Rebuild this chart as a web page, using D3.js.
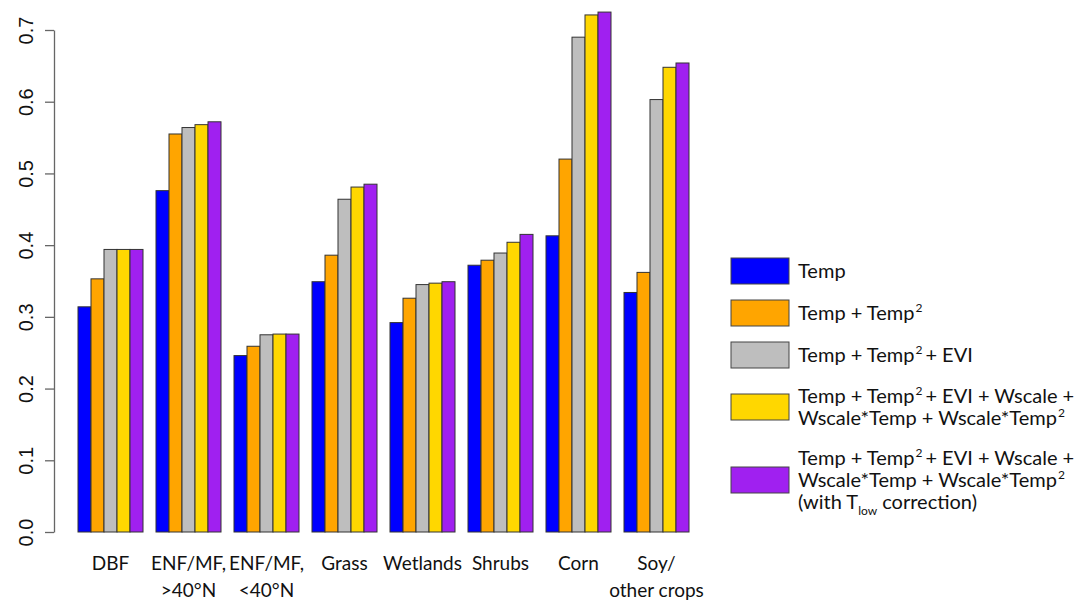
<!DOCTYPE html>
<html>
<head>
<meta charset="utf-8">
<script src="https://cdn.jsdelivr.net/npm/d3@7"></script>
<style>
  html, body { margin: 0; padding: 0; background: #fff; }
</style>
</head>
<body>
<div id="chart"></div>
<script>
// Chart data
const categories = ['DBF', 'ENF/MF,\n>40°N', 'ENF/MF,\n<40°N', 'Grass', 'Wetlands', 'Shrubs', 'Corn', 'Soy/\nother crops'];
const seriesNames = [
  ['Temp'],
  ['Temp + Temp^{2}'],
  ['Temp + Temp^{2}+ EVI'],
  ['Temp + Temp^{2}+ EVI + Wscale +', 'Wscale*Temp + Wscale*Temp^{2}'],
  ['Temp + Temp^{2}+ EVI + Wscale +', 'Wscale*Temp + Wscale*Temp^{2}', '(with T_{low} correction)']
];
const seriesColors = ['#0000ff', '#ffa500', '#bebebe', '#ffd700', '#a020f0'];
const temp =        [0.314, 0.476, 0.246, 0.349, 0.292, 0.372, 0.413, 0.334];
const tempSq =      [0.353, 0.555, 0.259, 0.386, 0.326, 0.379, 0.520, 0.362];
const tempSqEvi =   [0.394, 0.564, 0.275, 0.464, 0.345, 0.389, 0.690, 0.603];
const wscale =      [0.394, 0.568, 0.276, 0.481, 0.347, 0.404, 0.721, 0.648];
const wscaleTlow =  [0.394, 0.572, 0.276, 0.485, 0.349, 0.415, 0.725, 0.654];
const yTicks = [0, 0.1, 0.2, 0.3, 0.4, 0.5, 0.6, 0.7];

const series = [temp, tempSq, tempSqEvi, wscale, wscaleTlow];

const width = 1088, height = 600;
const svg = d3.select('#chart').append('svg')
  .attr('width', width)
  .attr('height', height);

const y = d3.scaleLinear().domain([0, 0.7]).range([532, 30]);
const x0 = d3.scaleBand().domain(d3.range(categories.length))
  .range([78, 689]).paddingInner(1 / 6).paddingOuter(0);
const x1 = d3.scaleBand().domain(d3.range(series.length))
  .range([0, x0.bandwidth()]).padding(0);

// y axis
const yAxis = d3.axisLeft(y).tickValues(yTicks).tickFormat(d3.format('.1f'))
  .tickSize(9).tickSizeOuter(0);
const gy = svg.append('g')
  .attr('transform', 'translate(54,0)')
  .call(yAxis);
gy.select('.domain').attr('stroke', '#666').attr('stroke-width', 1.3);
gy.selectAll('.tick line').attr('stroke', '#666').attr('stroke-width', 1.3);
gy.selectAll('.tick text')
  .attr('font-family', '"Liberation Sans", Arial, sans-serif')
  .attr('font-size', 20)
  .attr('fill', '#111')
  .attr('text-anchor', 'middle')
  .attr('dy', 0)
  .attr('x', 0)
  .attr('y', 0)
  .attr('transform', 'translate(-21,0) rotate(-90)');

// bars
const groups = svg.append('g').selectAll('g')
  .data(categories)
  .join('g')
  .attr('transform', (d, i) => 'translate(' + x0(i) + ',0)');

groups.selectAll('rect')
  .data((d, i) => series.map((s, k) => ({k: k, v: s[i]})))
  .join('rect')
  .attr('x', d => x1(d.k))
  .attr('y', d => y(d.v))
  .attr('width', x1.bandwidth())
  .attr('height', d => y(0) - y(d.v))
  .attr('fill', d => seriesColors[d.k])
  .attr('stroke', '#333')
  .attr('stroke-width', 1);

// category labels
const catFont = 'Lato, "Open Sans", sans-serif';
groups.append('text')
  .attr('font-family', catFont)
  .attr('font-size', 19)
  .attr('fill', '#111')
  .attr('text-anchor', 'middle')
  .selectAll('tspan')
  .data(d => d.split('\n'))
  .join('tspan')
  .attr('x', x0.bandwidth() / 2)
  .attr('y', (d, i) => 570 + i * 27)
  .text(d => d);

// legend: ^{..} superscript, _{..} subscript
function richLine(textSel, str) {
  const parts = str.split(/(\^\{[^}]*\}|_\{[^}]*\})/).filter(p => p.length);
  let back = 0, gap = 0;
  parts.forEach(p => {
    if (p.startsWith('^{')) {
      textSel.append('tspan').attr('font-size', 12).attr('dy', back - 8).attr('dx', 1)
        .text(p.slice(2, -1));
      back = 8; gap = 3;
    } else if (p.startsWith('_{')) {
      textSel.append('tspan').attr('font-size', 12).attr('dy', back + 6)
        .text(p.slice(2, -1));
      back = -6; gap = 0;
    } else {
      textSel.append('tspan').attr('dy', back).attr('dx', gap).text(p);
      back = 0; gap = 0;
    }
  });
}

const legendBoxY = [258, 300, 342, 394, 467];
const legend = svg.append('g');
seriesNames.forEach((lines, k) => {
  const by = legendBoxY[k];
  legend.append('rect')
    .attr('x', 731).attr('y', by)
    .attr('width', 58).attr('height', 26)
    .attr('fill', seriesColors[k])
    .attr('stroke', '#444').attr('stroke-width', 1);
  const lineH = 22;
  const top = by + 13 - (lines.length - 1) * lineH / 2;
  lines.forEach((ln, j) => {
    const t = legend.append('text')
      .attr('x', 798)
      .attr('y', top + j * lineH + 7)
      .attr('font-family', catFont)
      .attr('font-size', 20)
      .attr('fill', '#111');
    richLine(t, ln);
  });
});
</script>
</body>
</html>
